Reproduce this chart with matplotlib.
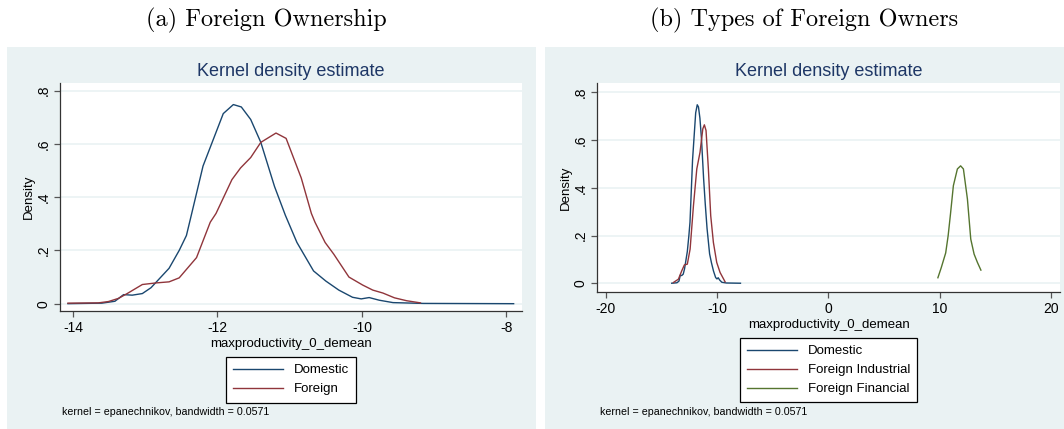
import matplotlib
matplotlib.use('Agg')
import matplotlib.pyplot as plt
from matplotlib.patches import Rectangle

W, H = 1064, 429

# Domestic firms (same curve in both panels)
dom_x = [-14.07, -13.6, -13.42, -13.3, -13.18, -13.04, -12.92, -12.67, -12.53, -12.43,
         -12.36, -12.2, -11.92, -11.78, -11.67, -11.54, -11.4, -11.21, -11.06, -10.9,
         -10.67, -10.5, -10.32, -10.13, -10.01, -9.9, -9.76, -9.57, -9.15, -7.9]
dom_y = [0.0, 0.002, 0.009, 0.034, 0.032, 0.038, 0.06, 0.133, 0.2, 0.256,
         0.335, 0.517, 0.714, 0.748, 0.739, 0.692, 0.606, 0.44, 0.332, 0.23,
         0.123, 0.085, 0.051, 0.024, 0.018, 0.023, 0.013, 0.004, 0.001, 0.0]

# Foreign firms (panel a)
for_x = [-14.07, -13.65, -13.51, -13.37, -13.25, -13.04, -12.85, -12.67, -12.53, -12.29,
         -12.1, -12.02, -11.8, -11.68, -11.54, -11.4, -11.19, -11.05, -10.84, -10.7,
         -10.65, -10.51, -10.39, -10.18, -9.99, -9.85, -9.71, -9.55, -9.38, -9.19]
for_y = [0.002, 0.003, 0.008, 0.02, 0.038, 0.072, 0.078, 0.082, 0.097, 0.173,
         0.306, 0.339, 0.466, 0.51, 0.549, 0.606, 0.641, 0.621, 0.472, 0.339,
         0.306, 0.23, 0.186, 0.1, 0.07, 0.051, 0.04, 0.022, 0.011, 0.003]

# Foreign industrial owners (panel b)
ind_x = [-13.92, -13.47, -13.17, -12.93, -12.67, -12.42, -12.12, -11.82, -11.53, -11.28,
         -11.14, -10.99, -10.78, -10.57, -10.33, -10.03, -9.73, -9.28]
ind_y = [0.003, 0.017, 0.052, 0.077, 0.08, 0.143, 0.325, 0.479, 0.549, 0.647,
         0.664, 0.64, 0.479, 0.283, 0.171, 0.087, 0.045, 0.006]

# Foreign financial owners (panel b)
fin_x = [9.82, 10.12, 10.52, 10.74, 10.95, 11.21, 11.57, 11.86, 12.11, 12.47,
         12.77, 13.07, 13.37, 13.68]
fin_y = [0.023, 0.065, 0.127, 0.199, 0.29, 0.409, 0.479, 0.492, 0.479, 0.353,
         0.185, 0.122, 0.087, 0.055]

y_ticks = [0, 0.2, 0.4, 0.6, 0.8]
y_labels = ['0', '.2', '.4', '.6', '.8']

NAVY = '#1a476f'
MAROON = '#90353b'
GREEN = '#55752f'
BG = '#eaf2f3'
SANS = 'Liberation Sans'


def fx(x):
    return x / W


def fy(y):
    return 1 - y / H


def panel(fig, left, right, top, bottom):
    # Stata-like grey-blue graph region, kept behind the axes
    fig.patches.append(Rectangle((fx(left), fy(bottom)), fx(right - left), (bottom - top) / H,
                                 transform=fig.transFigure, facecolor=BG, edgecolor='none', zorder=-5))


def make_axes(fig, x0, x1, y0, y1, xlim, ylim, xticks):
    ax = fig.add_axes([fx(x0), fy(y1), fx(x1 - x0), (y1 - y0) / H])
    ax.set_facecolor('white')
    ax.set_xlim(*xlim)
    ax.set_ylim(*ylim)
    ax.set_xticks(xticks)
    ax.set_xticklabels([str(t) for t in xticks], fontfamily=SANS, fontsize=10)
    ax.set_yticks(y_ticks)
    ax.set_yticklabels(y_labels, fontfamily=SANS, fontsize=10, rotation=90, va='center')
    ax.yaxis.grid(True, color=BG, linewidth=1.2)
    ax.set_axisbelow(True)
    for s in ['top', 'right']:
        ax.spines[s].set_visible(False)
    for s in ['left', 'bottom']:
        ax.spines[s].set_color('#333333')
        ax.spines[s].set_linewidth(0.9)
    ax.tick_params(length=4, width=0.9, color='#555555', pad=3)
    ax.set_ylabel('Density', fontfamily=SANS, fontsize=9.5, labelpad=1)
    ax.set_title('Kernel density estimate', fontfamily=SANS, fontsize=13, color='#1e3766', pad=5)
    ax.set_xlabel('maxproductivity_0_demean', fontfamily=SANS, fontsize=9.5, labelpad=2)
    return ax


def add_legend(ax, fig, cx, top):
    leg = ax.legend(loc='upper center', bbox_to_anchor=(fx(cx), fy(top)), bbox_transform=fig.transFigure,
                    prop={'family': SANS, 'size': 9.5}, frameon=True, fancybox=False, framealpha=1,
                    edgecolor='black', handlelength=3.8, handletextpad=0.8, borderpad=0.55,
                    labelspacing=0.5, borderaxespad=0)
    leg.get_frame().set_linewidth(0.9)
    return leg


fig = plt.figure(figsize=(W / 100, H / 100), dpi=100)

panel(fig, 7, 536, 47, 429)
panel(fig, 545, 1064, 47, 429)

fig.text(fx(266), fy(20), '(a) Foreign Ownership', fontfamily='cmr10', fontsize=17.5,
         ha='center', va='center')
fig.text(fx(804), fy(20), '(b) Types of Foreign Owners', fontfamily='cmr10', fontsize=17.5,
         ha='center', va='center')

# panel (a)
ax1 = make_axes(fig, 60, 522.3, 83, 311, (-14.18, -7.78), (-0.0275, 0.829), [-14, -12, -10, -8])
ax1.plot(dom_x, dom_y, color=NAVY, lw=1.0, label='Domestic')
ax1.plot(for_x, for_y, color=MAROON, lw=1.0, label='Foreign')
add_legend(ax1, fig, 291, 357)
fig.text(fx(62), fy(412), 'kernel = epanechnikov, bandwidth = 0.0571', fontfamily=SANS,
         fontsize=7.7, va='center')

# panel (b)
ax2 = make_axes(fig, 597.3, 1060, 83.3, 292.3, (-20.75, 20.78), (-0.038, 0.838), [-20, -10, 0, 10, 20])
ax2.plot(dom_x, dom_y, color=NAVY, lw=1.0, label='Domestic')
ax2.plot(ind_x, ind_y, color=MAROON, lw=1.0, label='Foreign Industrial')
ax2.plot(fin_x, fin_y, color=GREEN, lw=1.0, label='Foreign Financial')
add_legend(ax2, fig, 828.7, 338)
fig.text(fx(600), fy(412), 'kernel = epanechnikov, bandwidth = 0.0571', fontfamily=SANS,
         fontsize=7.7, va='center')

fig.savefig('out.png', dpi=100)
